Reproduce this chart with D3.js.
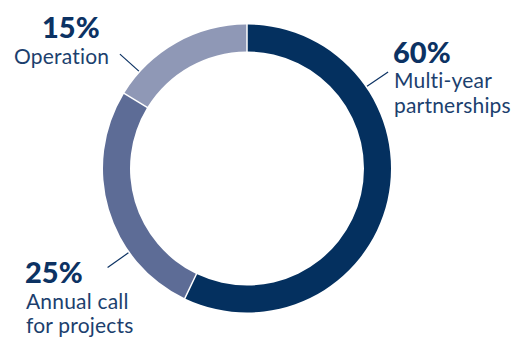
<!DOCTYPE html>
<meta charset="utf-8">
<style>
body{ margin:0; background:#fff; }
svg{ display:block; }
.pct{ font-family: Lato, "Open Sans", sans-serif; font-weight:900; font-size:29px; fill:#0c3263; }
.name{ font-family: Lato, "Open Sans", sans-serif; font-weight:400; font-size:21px; letter-spacing:0.2px; fill:#1c3f6e; }
</style>
<div id="chart"></div>
<script src="https://cdn.jsdelivr.net/npm/d3@7"></script>
<script>

// categories and shares (arc spans as drawn in the picture, labels as printed)
var categories = ['Multi-year partnerships', 'Annual call for projects', 'Operation']
var shares = [57.2, 26.6, 16.2]
var pctLabels = ['60%', '25%', '15%']
var nameLines = [['Multi-year', 'partnerships'], ['Annual call', 'for projects'], ['Operation']]
var colors = ['#04305f', '#5d6c96', '#8f98b6']

var width = 516, height = 338
var cx = 247, cy = 168.5
var rOuter = 144, rInner = 117

var svg = d3.select('#chart').append('svg')
    .attr('width', width)
    .attr('height', height)

var g = svg.append('g').attr('transform', 'translate(' + cx + ',' + cy + ')')

var pie = d3.pie().sort(null).padAngle(0.008)
var arc = d3.arc().innerRadius(rInner).outerRadius(rOuter)

g.selectAll('path')
    .data(pie(shares))
  .enter().append('path')
    .attr('d', arc)
    .attr('fill', function(d, i){ return colors[i] })

// label placement: leader angle (degrees clockwise from top), text anchor point
var labelPos = [
  {angle: 55.6, x: 393, y: 62.5},
  {angle: 234.6, x: 25, y: 283.3},
  {angle: 312, x: 42, y: 38, nameX: 14}
]

labelPos.forEach(function(p, i){
  var a = p.angle * Math.PI / 180
  var p0 = d3.pointRadial(a, rOuter + 1.5)
  var p1 = d3.pointRadial(a, rOuter + 27)
  g.append('line')
      .attr('x1', p0[0]).attr('y1', p0[1])
      .attr('x2', p1[0]).attr('y2', p1[1])
      .attr('stroke', '#0c3263')
      .attr('stroke-width', 1.2)

  svg.append('text')
      .attr('class', 'pct')
      .attr('x', p.x)
      .attr('y', p.y)
      .text(pctLabels[i])

  nameLines[i].forEach(function(line, j){
    svg.append('text')
        .attr('class', 'name')
        .attr('x', p.nameX != null ? p.nameX : p.x + 1)
        .attr('y', p.y + 25.5 + j * 24.5)
        .text(line)
  })
})

</script>
